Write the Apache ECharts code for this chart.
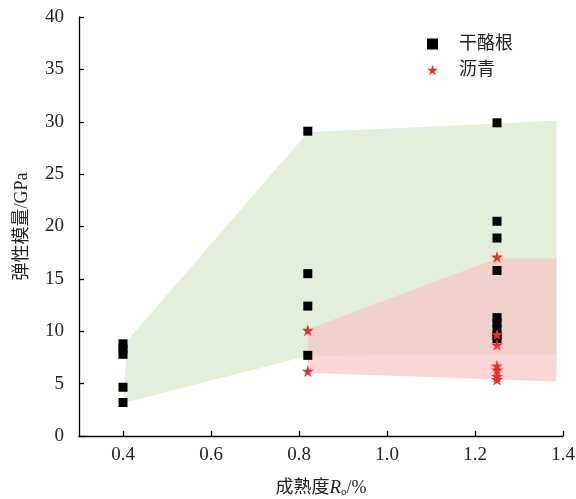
<!DOCTYPE html>
<html>
<head>
<meta charset="utf-8">
<script src="https://cdn.jsdelivr.net/npm/echarts@6/dist/echarts.min.js"></script>
<style>html,body{margin:0;padding:0;background:#fff;}#c{width:576px;height:499px;}</style>
</head>
<body>
<div id="c"></div>
<script>
// x tick labels
const xTicks = [0.4, 0.6, 0.8, 1.0, 1.2, 1.4];
// 干酪根 (kerogen) points
const kerogenRo = [0.4, 0.4, 0.4, 0.4, 0.4, 0.82, 0.82, 0.82, 0.82, 1.25, 1.25, 1.25, 1.25, 1.25, 1.25, 1.25, 1.25, 1.25];
const kerogenE  = [8.8, 8.3, 7.8, 4.65, 3.2, 29.1, 15.5, 12.4, 7.7, 29.9, 20.5, 18.9, 15.8, 11.3, 10.8, 10.2, 9.6, 9.3];
// 沥青 (bitumen) points
const bitumenRo = [0.82, 0.82, 1.25, 1.25, 1.25, 1.25, 1.25, 1.25, 1.25];
const bitumenE  = [10.1, 6.2, 17.1, 9.7, 8.7, 6.7, 6.3, 5.7, 5.4];
// envelope polygons
const greenRo = [0.4, 0.41, 0.82, 1.385, 1.385, 0.82, 0.4];
const greenE  = [3.15, 9.1, 29.0, 30.1, 7.83, 7.65, 3.15];
const redRo = [0.82, 1.25, 1.385, 1.385, 0.82];
const redE  = [10.2, 16.95, 16.95, 5.2, 6.05];

const serif = '"Liberation Serif", "Noto Sans CJK SC", serif';
const starPath = 'path://M50,0 L61,35 L98,35 L68,57 L79,91 L50,70 L21,91 L32,57 L2,35 L39,35 Z';

function polySeries(xs, ys, fill, z) {
  return {
    type: 'custom', z: z, silent: true,
    data: [[xs[0], ys[0]]],
    renderItem: function (params, api) {
      const pts = xs.map(function (x, i) { return api.coord([x, ys[i]]); });
      return { type: 'polygon', shape: { points: pts }, style: { fill: fill } };
    }
  };
}

const chart = echarts.init(document.getElementById('c'), null, { renderer: 'canvas' });
chart.setOption({
  animation: false,
  backgroundColor: '#fff',
  grid: { left: 79, right: 13, top: 17, bottom: 63, containLabel: false, outerBoundsMode: 'none' },
  legend: {
    orient: 'vertical', left: 427, top: 35, padding: 0, itemGap: 8,
    itemWidth: 11, itemHeight: 11,
    textStyle: { fontFamily: serif, fontSize: 18, color: '#222', padding: [0, 0, 0, 16] },
    data: [
      { name: '干酪根', icon: 'rect', itemStyle: { color: '#000', opacity: 1 } },
      { name: '沥青', icon: starPath, itemStyle: { color: '#e8302a', opacity: 1 } }
    ]
  },
  xAxis: {
    type: 'value', min: 0.3, max: 1.4,
    name: '成熟度{i|R}{s|o}/%', nameLocation: 'middle', nameGap: 42,
    nameTextStyle: {
      fontFamily: serif, fontSize: 18, color: '#222',
      rich: {
        i: { fontFamily: serif, fontSize: 19, fontStyle: 'italic', color: '#222' },
        s: { fontFamily: serif, fontSize: 11, color: '#222', padding: [9, 0, 0, 0] }
      }
    },
    axisLine: { lineStyle: { color: '#000', width: 1.3 } },
    axisTick: { inside: true, length: 5, lineStyle: { color: '#000', width: 1.3 }, customValues: xTicks },
    axisLabel: { customValues: xTicks, margin: 10, fontFamily: serif, fontSize: 19, color: '#222',
      formatter: function (v) { return v.toFixed(1); } },
    splitLine: { show: false }
  },
  yAxis: {
    type: 'value', min: 0, max: 40, interval: 5,
    name: '弹性模量/GPa', nameLocation: 'middle', nameGap: 48,
    nameTextStyle: { fontFamily: serif, fontSize: 18, color: '#222' },
    axisLine: { show: true, lineStyle: { color: '#000', width: 1.3 } },
    axisTick: { show: true, inside: true, length: 5, lineStyle: { color: '#000', width: 1.3 } },
    axisLabel: { margin: 15, fontFamily: serif, fontSize: 19, color: '#222' },
    splitLine: { show: false }
  },
  series: [
    polySeries(greenRo, greenE, 'rgb(227,239,217)', 1),
    polySeries(redRo, redE, 'rgba(248,192,192,0.65)', 2),
    {
      name: '干酪根', type: 'scatter', z: 5, symbol: 'rect', symbolSize: 9,
      itemStyle: { color: '#000', opacity: 1 },
      data: kerogenRo.map(function (x, i) { return [x, kerogenE[i]]; })
    },
    {
      name: '沥青', type: 'scatter', z: 6, symbol: starPath, symbolSize: 12,
      itemStyle: { color: '#e8302a', opacity: 1 },
      data: bitumenRo.map(function (x, i) { return [x, bitumenE[i]]; })
    }
  ]
});
</script>
</body>
</html>
